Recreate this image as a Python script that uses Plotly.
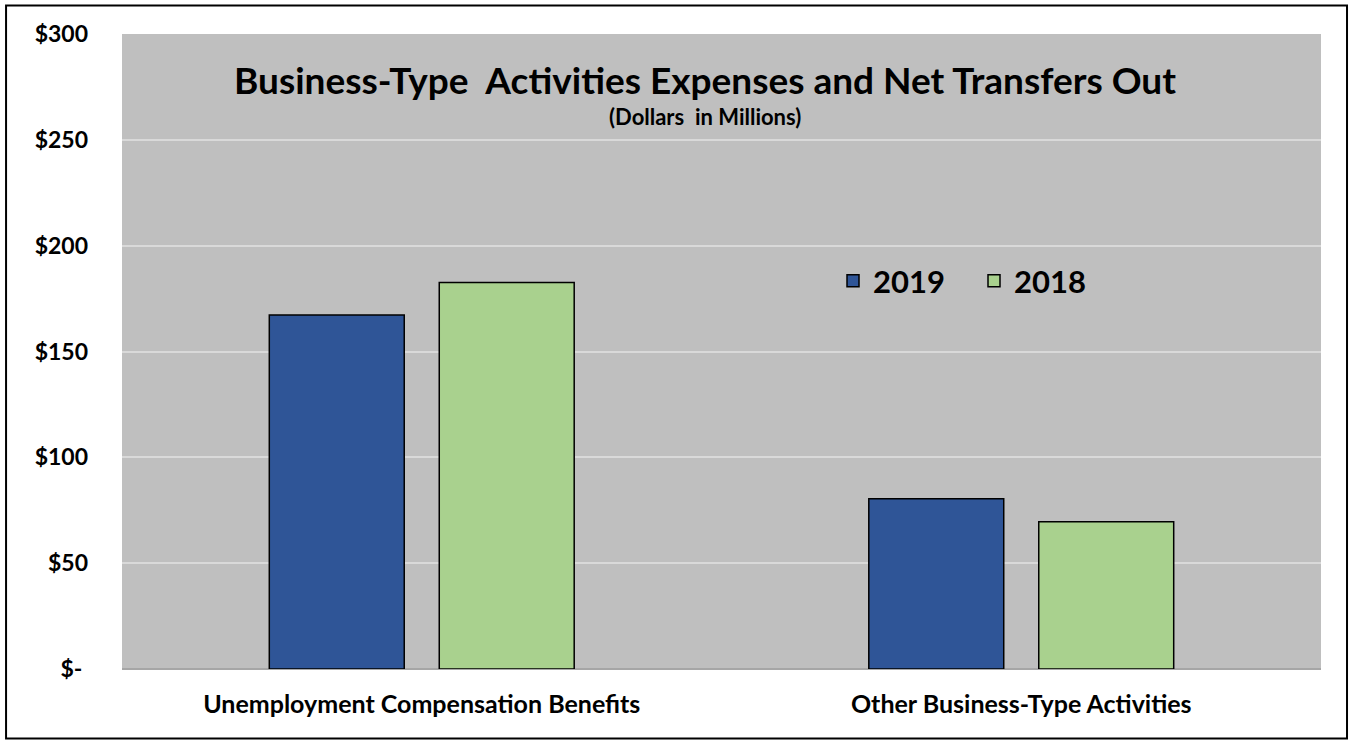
import plotly.graph_objects as go

# chart data
categories = ["Unemployment Compensation Benefits", "Other Business-Type Activities"]
series_names = ["2019", "2018"]
values_2019 = [167.2, 80.4]
values_2018 = [182.6, 69.6]
tick_vals = [0, 50, 100, 150, 200, 250, 300]
tick_text = ["$-\u00a0", "$50", "$100", "$150", "$200", "$250", "$300"]

colors = {"2019": "#2f5597", "2018": "#a9d18e"}
FONT = "Lato"

fig = go.Figure()

for name, vals in zip(series_names, [values_2019, values_2018]):
    fig.add_trace(go.Bar(
        x=categories,
        y=vals,
        name=name,
        marker=dict(color=colors[name], line=dict(color="black", width=1.5)),
    ))

fig.update_layout(
    width=1350, height=740,
    margin=dict(l=122, r=29, t=34, b=71),
    paper_bgcolor="white",
    plot_bgcolor="#bfbfbf",
    barmode="group",
    bargap=0.433,
    bargroupgap=0.206,
    font=dict(family=FONT, color="black"),
    legend=dict(
        orientation="h",
        x=0.593, xanchor="left",
        y=0.611, yanchor="middle",
        bgcolor="rgba(0,0,0,0)",
        font=dict(size=31, family=FONT, weight="bold"),
        entrywidth=96,
        traceorder="normal",
    ),
    showlegend=True,
)

fig.update_yaxes(
    range=[0, 300],
    tickvals=tick_vals,
    ticktext=tick_text,
    showgrid=True, gridcolor="#d9d9d9", gridwidth=2,
    zeroline=True, zerolinecolor="#a6a6a6", zerolinewidth=2,
    ticks="",
    ticklabelstandoff=33,
    tickfont=dict(size=23, family=FONT, weight="bold"),
)
fig.update_xaxes(
    ticks="",
    ticklabelstandoff=18,
    tickfont=dict(size=25, family=FONT, weight="bold"),
)

# title and subtitle inside the plot area
fig.add_annotation(
    text="Business-Type&nbsp; Activities Expenses and Net Transfers Out",
    xref="paper", yref="paper", x=0.486, y=0.929,
    xanchor="center", yanchor="middle", showarrow=False,
    font=dict(size=37, family=FONT, weight="bold"),
)
fig.add_annotation(
    text="(Dollars&nbsp; in Millions)",
    xref="paper", yref="paper", x=0.486, y=0.870,
    xanchor="center", yanchor="middle", showarrow=False,
    font=dict(size=22, family=FONT, weight="bold"),
)

# outer frame around the chart
fig.add_shape(
    type="rect", xref="paper", yref="paper",
    x0=-0.0967, x1=1.0217, y0=-0.1095, y1=1.0448,
    line=dict(color="black", width=2), fillcolor="rgba(0,0,0,0)",
    layer="above",
)

# drop the default page margin so the figure fills the window exactly
fig.write_html(
    "out.html",
    config={"displayModeBar": False},
    post_script="document.body.style.margin='0px';",
)
